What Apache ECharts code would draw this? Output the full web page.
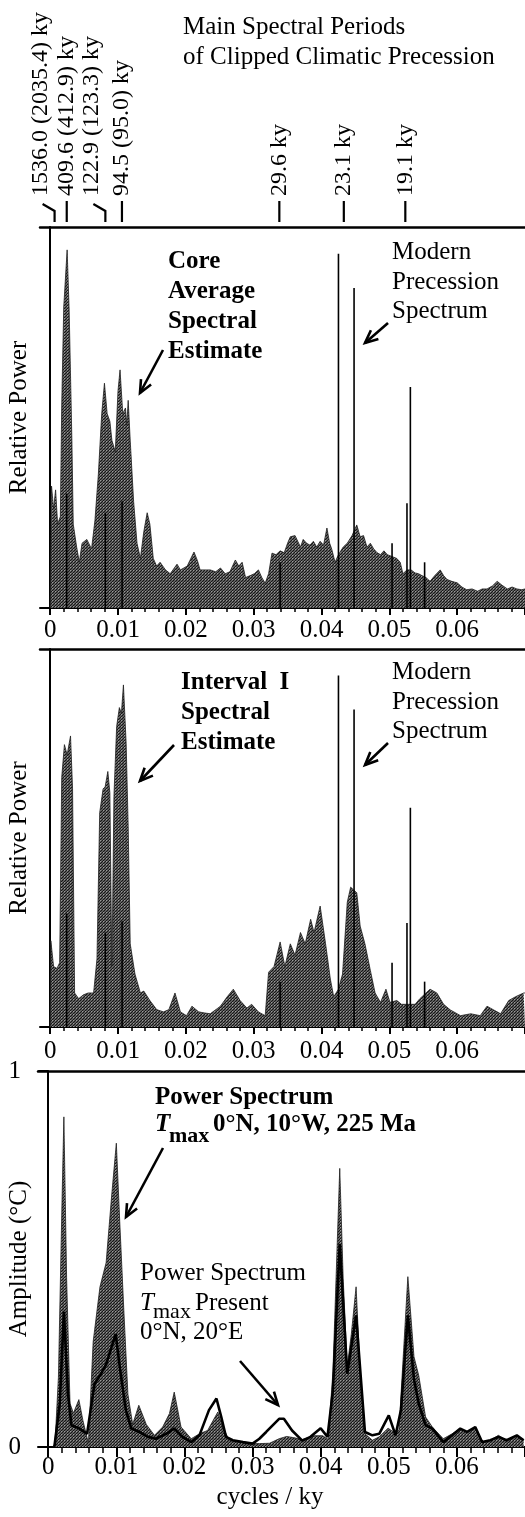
<!DOCTYPE html>
<html>
<head>
<meta charset="utf-8">
<script src="https://cdn.jsdelivr.net/npm/echarts@6/dist/echarts.min.js"></script>
<style>
  html, body { margin: 0; padding: 0; background: #fff; }
  #chart { width: 525px; height: 1517px; }
</style>
</head>
<body>
<div id="chart"></div>
<script>
// ---- axis ticks / labels (cycles per ky)
var tickValues = [0, 0.01, 0.02, 0.03, 0.04, 0.05, 0.06, 0.07];
var labelValues = [0, 0.01, 0.02, 0.03, 0.04, 0.05, 0.06];
var tickLabels = ['0', '0.01', '0.02', '0.03', '0.04', '0.05', '0.06'];

// ---- main spectral periods of clipped climatic precession (ky)
var periodValues = [1536.0, 409.6, 122.9, 94.5, 29.6, 23.1, 19.1];
var periodLabels = ['1536.0 (2035.4) ky', '409.6 (412.9) ky', '122.9 (123.3) ky', '94.5 (95.0) ky', '29.6 ky', '23.1 ky', '19.1 ky'];
var periodBent = [true, false, true, false, false, false, false];

// ---- panel 1: core average spectral estimate (relative power)
var coreFreq = [0, 0.0002, 0.0005, 0.0008, 0.0011, 0.0015, 0.0017, 0.0020, 0.0025, 0.0028, 0.0032, 0.0034, 0.0039, 0.0043, 0.0047,
  0.0054, 0.0061, 0.0066, 0.0071, 0.0076, 0.0080, 0.0084, 0.0088, 0.0091, 0.0096, 0.0100, 0.0103, 0.0107, 0.0111, 0.0113,
  0.0115, 0.0118, 0.0123, 0.0128, 0.0133, 0.0138, 0.0143, 0.0147, 0.0152, 0.0157, 0.0162, 0.0170, 0.0177, 0.0187, 0.0192,
  0.0197, 0.0202, 0.0206, 0.0212, 0.0217, 0.0221, 0.0231, 0.0236, 0.0244, 0.0251, 0.0258, 0.0265, 0.0273, 0.0278, 0.0283,
  0.0288, 0.0295, 0.0301, 0.0307, 0.0312, 0.0317, 0.0322, 0.0327, 0.0333, 0.0339, 0.0345, 0.0350, 0.0354, 0.0361, 0.0365,
  0.0369, 0.0373, 0.0378, 0.0383, 0.0388, 0.0393, 0.0398, 0.0403, 0.0408, 0.0412, 0.0415, 0.0420, 0.0425, 0.0432, 0.0438,
  0.0445, 0.0452, 0.0457, 0.0462, 0.0467, 0.0472, 0.0477, 0.0482, 0.0487, 0.0492, 0.0497, 0.0504, 0.0511, 0.0516, 0.0520,
  0.0526, 0.0532, 0.0538, 0.0543, 0.0548, 0.0554, 0.0560, 0.0567, 0.0575, 0.0580, 0.0585, 0.0592, 0.0600, 0.0607, 0.0614,
  0.0622, 0.0630, 0.0637, 0.0644, 0.0652, 0.0659, 0.0666, 0.0674, 0.0681, 0.0688, 0.0695, 0.0700];
var corePower = [0, 0.32, 0.26, 0.31, 0.22, 0.24, 0.53, 0.79, 0.94, 0.78, 0.44, 0.22, 0.16, 0.12, 0.17,
  0.18, 0.155, 0.23, 0.35, 0.51, 0.59, 0.51, 0.49, 0.44, 0.41, 0.57, 0.625, 0.51, 0.525, 0.48,
  0.545, 0.44, 0.28, 0.17, 0.13, 0.20, 0.25, 0.22, 0.13, 0.11, 0.12, 0.10, 0.09, 0.115, 0.10,
  0.105, 0.11, 0.125, 0.147, 0.125, 0.10, 0.10, 0.10, 0.095, 0.105, 0.09, 0.095, 0.126, 0.11, 0.12,
  0.08, 0.085, 0.09, 0.10, 0.08, 0.065, 0.09, 0.144, 0.14, 0.15, 0.145, 0.17, 0.187, 0.19, 0.175,
  0.16, 0.18, 0.17, 0.165, 0.175, 0.16, 0.175, 0.165, 0.21, 0.17, 0.155, 0.12, 0.14, 0.16, 0.17,
  0.19, 0.218, 0.187, 0.19, 0.16, 0.17, 0.155, 0.145, 0.14, 0.15, 0.14, 0.135, 0.13, 0.12, 0.09,
  0.10, 0.10, 0.092, 0.09, 0.085, 0.08, 0.07, 0.085, 0.10, 0.085, 0.075, 0.07, 0.066, 0.055, 0.048,
  0.05, 0.044, 0.05, 0.05, 0.058, 0.07, 0.06, 0.05, 0.055, 0.05, 0.048, 0.05];

// ---- panel 2: interval I spectral estimate (relative power)
var intFreq = [0, 0.0001, 0.0005, 0.0010, 0.0014, 0.0017, 0.0021, 0.0025, 0.0030, 0.0033, 0.0036, 0.0042, 0.0049, 0.0056, 0.0064,
  0.0069, 0.0073, 0.0078, 0.0081, 0.0085, 0.0088, 0.0090, 0.0091, 0.0092, 0.0094, 0.0098, 0.0102, 0.0105, 0.0108, 0.0112,
  0.0115, 0.0118, 0.0125, 0.0133, 0.0138, 0.0147, 0.0157, 0.0167, 0.0175, 0.0184, 0.0192, 0.0201, 0.0209, 0.0219, 0.0228,
  0.0236, 0.0251, 0.0261, 0.0270, 0.0280, 0.0290, 0.0297, 0.0307, 0.0317, 0.0322, 0.0330, 0.0339, 0.0346, 0.0354, 0.0361,
  0.0369, 0.0376, 0.0384, 0.0389, 0.0398, 0.0406, 0.0413, 0.0418, 0.0425, 0.0431, 0.0438, 0.0443, 0.0452, 0.0457, 0.0464,
  0.0472, 0.0479, 0.0487, 0.0495, 0.0501, 0.0511, 0.0518, 0.0525, 0.0538, 0.0545, 0.0560, 0.0570, 0.0580, 0.0590, 0.0605,
  0.0620, 0.0634, 0.0644, 0.0654, 0.0664, 0.0676, 0.0686, 0.0698, 0.0700];
var intPower = [0, 0.228, 0.16, 0.155, 0.17, 0.66, 0.747, 0.72, 0.77, 0.63, 0.09, 0.075, 0.085, 0.09, 0.09,
  0.18, 0.567, 0.63, 0.635, 0.676, 0.62, 0.30, 0.16, 0.30, 0.61, 0.795, 0.845, 0.83, 0.905, 0.75,
  0.53, 0.22, 0.14, 0.09, 0.095, 0.07, 0.046, 0.04, 0.046, 0.09, 0.04, 0.03, 0.055, 0.04, 0.037,
  0.035, 0.055, 0.08, 0.10, 0.07, 0.05, 0.06, 0.04, 0.03, 0.145, 0.16, 0.225, 0.16, 0.22, 0.19,
  0.25, 0.22, 0.285, 0.25, 0.32, 0.22, 0.127, 0.08, 0.10, 0.14, 0.33, 0.37, 0.355, 0.267, 0.22,
  0.15, 0.09, 0.065, 0.10, 0.065, 0.07, 0.06, 0.06, 0.06, 0.075, 0.10, 0.09, 0.06, 0.045, 0.03,
  0.035, 0.03, 0.055, 0.045, 0.035, 0.07, 0.08, 0.09, 0.09];

// ---- modern precession spectrum (line spectrum, same on panels 1 and 2)
var modernFreq = [0.00244, 0.00814, 0.0106, 0.0339, 0.0425, 0.0448, 0.0504, 0.0526, 0.0531, 0.0552];
var modernPower = [0.30, 0.25, 0.28, 0.12, 0.93, 0.84, 0.17, 0.275, 0.58, 0.12];

// ---- panel 3: power spectrum Tmax 0N 10W 225 Ma (amplitude, C)
var pastFreq = [0.0007, 0.0010, 0.0015, 0.0020, 0.0023, 0.0027, 0.0032, 0.0037, 0.0045, 0.0051, 0.0059, 0.0066, 0.0076, 0.0085, 0.0093,
  0.0100, 0.0105, 0.0111, 0.0117, 0.0124, 0.0133, 0.0144, 0.0156, 0.0168, 0.0178, 0.0185, 0.0195, 0.0210, 0.0222, 0.0234,
  0.0249, 0.0256, 0.0266, 0.0280, 0.0295, 0.0310, 0.0325, 0.0339, 0.0350, 0.0360, 0.0373, 0.0390, 0.0403, 0.0411, 0.0418,
  0.0428, 0.0433, 0.0439, 0.0445, 0.0452, 0.0458, 0.0465, 0.0476, 0.0486, 0.0499, 0.0510, 0.0515, 0.0528, 0.0537, 0.0544,
  0.0554, 0.0564, 0.0580, 0.0593, 0.0605, 0.0615, 0.0627, 0.0637, 0.0649, 0.0661, 0.0673, 0.0688, 0.0698];
var pastAmp = [0, 0.01, 0.186, 0.63, 0.878, 0.45, 0.116, 0.09, 0.126, 0.07, 0.01, 0.28, 0.426, 0.49, 0.665,
  0.808, 0.60, 0.364, 0.14, 0.06, 0.111, 0.06, 0.031, 0.053, 0.089, 0.146, 0.053, 0.022, 0.035, 0.044,
  0.093, 0.053, 0.018, 0.013, 0.009, 0.009, 0.01, 0.022, 0.028, 0.025, 0.02, 0.03, 0.03, 0.02, 0.20,
  0.741, 0.45, 0.213, 0.30, 0.426, 0.20, 0.035, 0.018, 0.027, 0.05, 0.036, 0.045, 0.453, 0.24, 0.19,
  0.08, 0.053, 0.022, 0.035, 0.049, 0.04, 0.053, 0.013, 0.018, 0.031, 0.018, 0.031, 0.018];

// ---- panel 3: power spectrum Tmax present 0N 20E (amplitude, C)
var presFreq = [0.0009, 0.0017, 0.0023, 0.0029, 0.0034, 0.0046, 0.0057, 0.0068, 0.0076, 0.0085, 0.0099, 0.0106, 0.0114, 0.0122, 0.0134,
  0.0146, 0.0158, 0.0173, 0.0185, 0.0197, 0.0210, 0.0222, 0.0236, 0.0247, 0.0254, 0.0261, 0.0271, 0.0286, 0.0300, 0.0310,
  0.0320, 0.0339, 0.0346, 0.0358, 0.0373, 0.0385, 0.0400, 0.0410, 0.0418, 0.0428, 0.0439, 0.0452, 0.0465, 0.0476, 0.0486,
  0.0500, 0.0510, 0.0518, 0.0528, 0.0537, 0.0544, 0.0554, 0.0564, 0.0580, 0.0593, 0.0605, 0.0615, 0.0627, 0.0637, 0.0649,
  0.0661, 0.0673, 0.0688, 0.0698];
var presAmp = [0, 0.115, 0.36, 0.142, 0.058, 0.049, 0.035, 0.168, 0.19, 0.22, 0.30, 0.20, 0.098, 0.049, 0.04,
  0.027, 0.022, 0.035, 0.049, 0.027, 0.013, 0.031, 0.098, 0.129, 0.08, 0.027, 0.018, 0.013, 0.009, 0.022,
  0.04, 0.075, 0.075, 0.044, 0.017, 0.027, 0.05, 0.027, 0.15, 0.54, 0.195, 0.35, 0.04, 0.031, 0.035,
  0.084, 0.031, 0.10, 0.35, 0.18, 0.115, 0.058, 0.049, 0.013, 0.031, 0.049, 0.04, 0.053, 0.013, 0.018,
  0.027, 0.018, 0.031, 0.018];

function pairs(xs, ys) {
  var out = [];
  for (var i = 0; i < xs.length; i++) out.push([xs[i], ys[i]]);
  return out;
}

var serif = '"Liberation Serif", "Times New Roman", serif';
var minorTicks = [];
for (var k = 0; k <= 35; k++) minorTicks.push(+(k * 0.002).toFixed(3));

// halftone-like fill, like the stippled print
function stipple() {
  var c = document.createElement('canvas');
  c.width = 3; c.height = 3;
  var g = c.getContext('2d');
  g.fillStyle = '#5c5c5c';
  g.fillRect(0, 0, 3, 3);
  g.fillStyle = '#161616';
  g.fillRect(0, 0, 1, 1);
  g.fillRect(2, 1, 1, 1);
  g.fillRect(1, 2, 1, 1);
  g.fillStyle = '#9a9a9a';
  g.fillRect(1, 0, 1, 1);
  return { image: c, repeat: 'repeat' };
}
var fillColor = stipple();
var edgeColor = '#1e1e1e';

function xAxes(grid, min, majorLen, minorLen, margin) {
  return [
    {
      gridIndex: grid, type: 'value', min: min, max: 0.07, position: 'bottom',
      axisLine: { show: true, onZero: false, lineStyle: { color: '#000', width: 2 } },
      axisTick: { show: true, customValues: tickValues, length: majorLen, lineStyle: { color: '#000', width: 2 } },
      axisLabel: {
        show: true, customValues: labelValues, margin: margin, fontSize: 25, fontFamily: serif, color: '#000',
        formatter: function (v) { return tickLabels[Math.round(v * 100)]; }
      },
      splitLine: { show: false }
    },
    {
      gridIndex: grid, type: 'value', min: min, max: 0.07, position: 'bottom',
      axisLine: { show: false },
      axisTick: { show: true, customValues: minorTicks, length: minorLen, lineStyle: { color: '#000', width: 1.5 } },
      axisLabel: { show: false },
      splitLine: { show: false }
    },
    {
      gridIndex: grid, type: 'value', min: min, max: 0.07, position: 'top',
      axisLine: { show: true, onZero: false, lineStyle: { color: '#000', width: 2.5 } },
      axisTick: { show: false }, axisLabel: { show: false }, splitLine: { show: false }
    }
  ];
}

function yName(text, gap) {
  return {
    name: text, nameLocation: 'middle', nameRotate: 90, nameGap: gap, nameMoveOverlap: false,
    nameTextStyle: { fontSize: 25, fontFamily: serif, color: '#000' }
  };
}

var option = {
  animation: false,
  backgroundColor: '#fff',
  grid: [
    { left: 40, right: 0, top: 227, height: 381, outerBoundsMode: 'none', containLabel: false },
    { left: 40, right: 0, top: 649, height: 378, outerBoundsMode: 'none', containLabel: false },
    { left: 38, right: 0, top: 1071, height: 376, outerBoundsMode: 'none', containLabel: false }
  ],
  xAxis: [].concat(xAxes(0, -0.0015, 7, 4, 10), xAxes(1, -0.0015, 7, 4, 12), xAxes(2, -0.0015, 10, 6, 8)),
  yAxis: [
    Object.assign({
      gridIndex: 0, type: 'value', min: 0, max: 1,
      axisLine: { show: true, lineStyle: { color: '#000', width: 2 } },
      axisTick: { show: false }, axisLabel: { show: false }, splitLine: { show: false }
    }, yName('Relative Power', 8)),
    Object.assign({
      gridIndex: 1, type: 'value', min: 0, max: 1,
      axisLine: { show: true, lineStyle: { color: '#000', width: 2 } },
      axisTick: { show: false }, axisLabel: { show: false }, splitLine: { show: false }
    }, yName('Relative Power', 8)),
    Object.assign({
      gridIndex: 2, type: 'value', min: 0, max: 1, interval: 1,
      axisLine: { show: true, lineStyle: { color: '#000', width: 2 } },
      axisTick: { show: true, length: 10, lineStyle: { color: '#000', width: 2 } },
      axisLabel: { show: true, margin: 17, fontSize: 25, fontFamily: serif, color: '#000' },
      splitLine: { show: false }
    }, yName('Amplitude (°C)', 6))
  ],
  series: [
    {
      type: 'line', xAxisIndex: 0, yAxisIndex: 0, data: pairs(coreFreq, corePower),
      symbol: 'none', lineStyle: { color: edgeColor, width: 0.8 },
      areaStyle: { color: fillColor, opacity: 1 }, z: 2
    },
    {
      type: 'bar', xAxisIndex: 0, yAxisIndex: 0, data: pairs(modernFreq, modernPower),
      barWidth: 1.6, itemStyle: { color: '#000' }, z: 3
    },
    {
      type: 'line', xAxisIndex: 3, yAxisIndex: 1, data: pairs(intFreq, intPower),
      symbol: 'none', lineStyle: { color: edgeColor, width: 0.8 },
      areaStyle: { color: fillColor, opacity: 1 }, z: 2
    },
    {
      type: 'bar', xAxisIndex: 3, yAxisIndex: 1, data: pairs(modernFreq, modernPower),
      barWidth: 1.6, itemStyle: { color: '#000' }, z: 3
    },
    {
      type: 'line', xAxisIndex: 6, yAxisIndex: 2, data: pairs(pastFreq, pastAmp),
      symbol: 'none', lineStyle: { color: edgeColor, width: 0.8 },
      areaStyle: { color: fillColor, opacity: 1 }, z: 2
    },
    {
      type: 'line', xAxisIndex: 6, yAxisIndex: 2, data: pairs(presFreq, presAmp),
      symbol: 'none', lineStyle: { color: '#000', width: 2.6 }, z: 3
    }
  ]
};

var chart = echarts.init(document.getElementById('chart'));
chart.setOption(option);

// ---- annotations
function txt(text, x, y, font, align, rot) {
  return {
    type: 'text', x: x, y: y, rotation: rot || 0, z: 10,
    style: {
      text: text, font: font, fill: '#000',
      align: align || 'left', textAlign: align || 'left',
      verticalAlign: 'middle', textVerticalAlign: 'middle'
    }
  };
}

function arrow(x1, y1, x2, y2) {
  var a = Math.atan2(y2 - y1, x2 - x1), L = 14, s = 0.42;
  return {
    type: 'group', z: 10,
    children: [
      { type: 'line', shape: { x1: x1, y1: y1, x2: x2, y2: y2 }, style: { stroke: '#000', lineWidth: 2.6 } },
      {
        type: 'polyline',
        shape: { points: [[x2 - L * Math.cos(a - s), y2 - L * Math.sin(a - s)], [x2, y2], [x2 - L * Math.cos(a + s), y2 - L * Math.sin(a + s)]] },
        style: { stroke: '#000', lineWidth: 2.6, fill: null }
      }
    ]
  };
}

var reg = '25px ' + serif;
var bold = 'bold 25px ' + serif;
var els = [
  txt('Main Spectral Periods', 183, 27, reg),
  txt('of Clipped Climatic Precession', 183, 57, reg),

  txt('Core', 168, 262, bold),
  txt('Average', 168, 292, bold),
  txt('Spectral', 168, 322, bold),
  txt('Estimate', 168, 352, bold),
  arrow(163, 350, 140, 393),
  txt('Modern', 392, 252, reg),
  txt('Precession', 392, 282, reg),
  txt('Spectrum', 392, 311, reg),
  arrow(388, 323, 365, 343),

  txt('Interval  I', 181, 683, bold),
  txt('Spectral', 181, 713, bold),
  txt('Estimate', 181, 743, bold),
  arrow(174, 745, 140, 781),
  txt('Modern', 392, 672, reg),
  txt('Precession', 392, 702, reg),
  txt('Spectrum', 392, 731, reg),
  arrow(388, 743, 365, 765),

  txt('Power Spectrum', 155, 1098, bold),
  txt('T', 155, 1125, 'italic bold 25px ' + serif),
  txt('max', 169, 1136, 'bold 22px ' + serif),
  txt('0°N, 10°W, 225 Ma', 213, 1125, bold),
  arrow(163, 1148, 126, 1217),

  txt('Power Spectrum', 140, 1273, reg),
  txt('T', 140, 1303, 'italic 25px ' + serif),
  txt('max', 153, 1312, '22px ' + serif),
  txt('Present', 195, 1303, reg),
  txt('0°N, 20°E', 140, 1332, reg),
  arrow(240, 1361, 278, 1405),

  txt('cycles / ky', 270, 1497, reg, 'center')
];

// period markers placed on the frequency scale of the top panel
for (var i = 0; i < periodValues.length; i++) {
  var px = chart.convertToPixel({ xAxisIndex: 0 }, 1 / periodValues[i]);
  var lx = px;
  if (periodBent[i]) {
    lx = px - 14;
    els.push({
      type: 'polyline', z: 10,
      shape: { points: [[px, 222], [px, 211], [px - 12, 204]] },
      style: { stroke: '#000', lineWidth: 2.2, fill: null }
    });
  } else {
    els.push({
      type: 'line', z: 10,
      shape: { x1: px, y1: 201, x2: px, y2: 222 },
      style: { stroke: '#000', lineWidth: 2.2 }
    });
  }
  els.push(txt(periodLabels[i], lx, 196, '24px ' + serif, 'left', Math.PI / 2));
}

chart.setOption({ graphic: { elements: els } });
</script>
</body>
</html>
